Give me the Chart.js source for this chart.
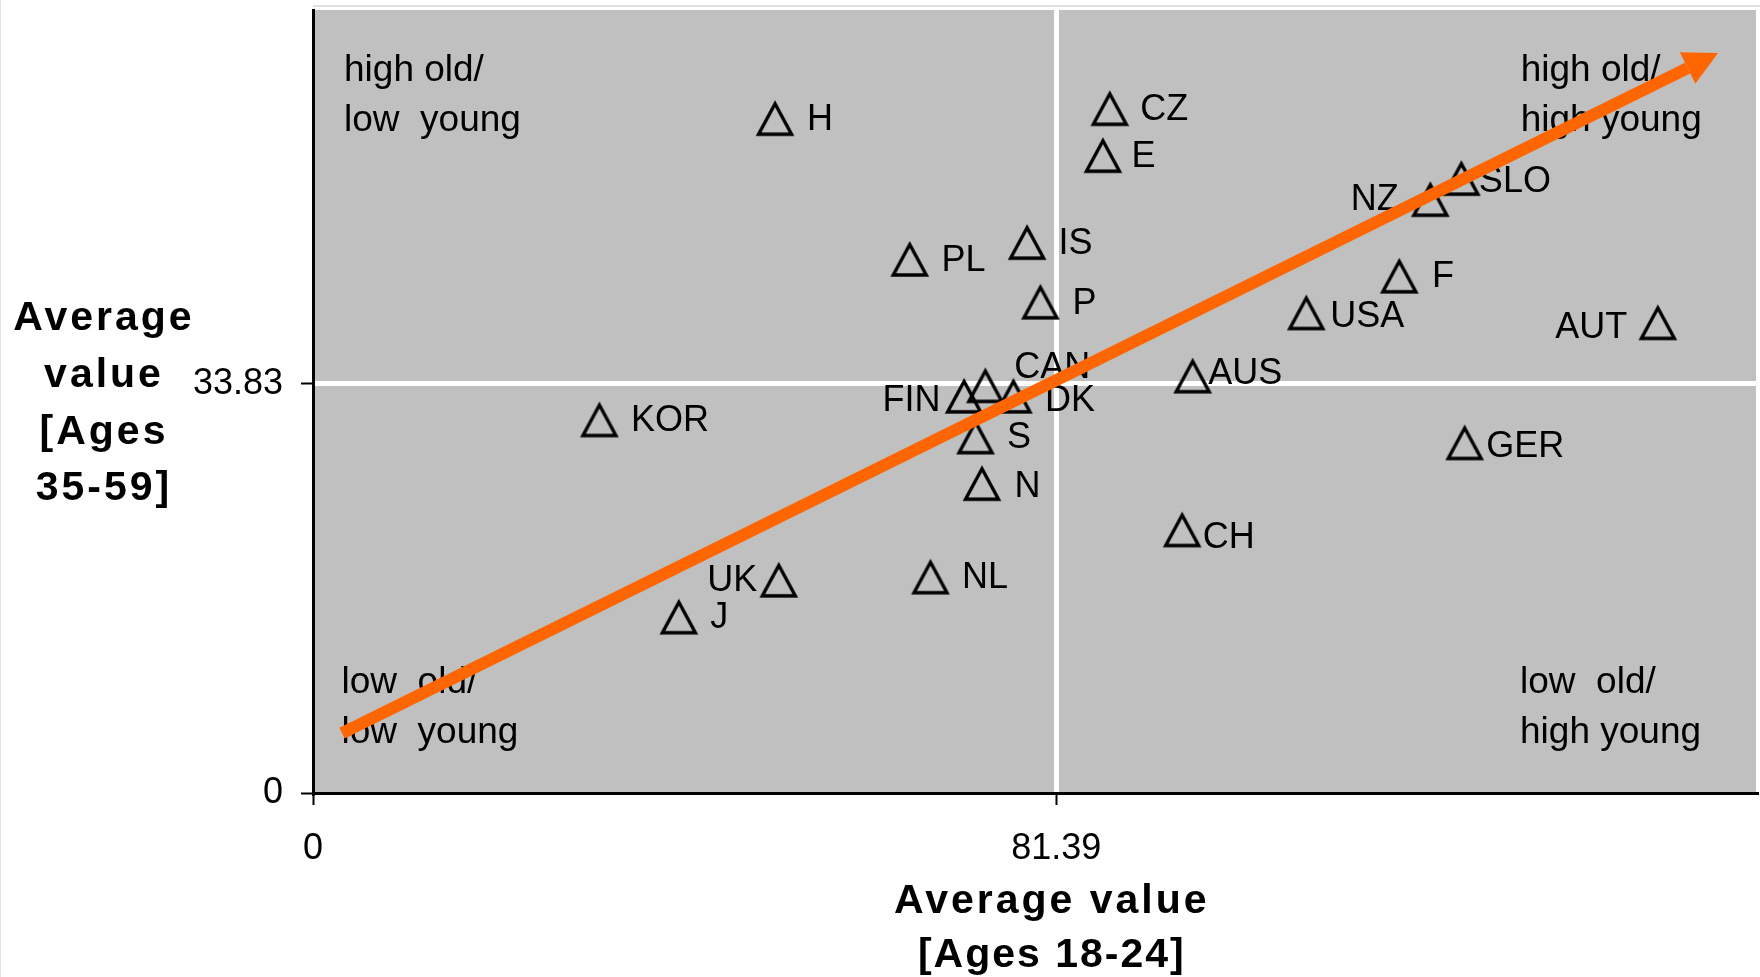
<!DOCTYPE html>
<html>
<head>
<meta charset="utf-8">
<script src="https://cdn.jsdelivr.net/npm/chart.js@4.4.1/dist/chart.umd.min.js"></script>
<style>
html,body{margin:0;padding:0;background:#ffffff;}
#wrap{width:1760px;height:977px;position:relative;}
canvas{display:block;}
</style>
</head>
<body>
<div id="wrap"><canvas id="c" width="1760" height="977"></canvas></div>
<script>
// ---------------- data ----------------
const countries = ['H','CZ','E','NZ','SLO','IS','PL','F','P','USA','AUT','AUS','CAN','FIN','DK','KOR','S','GER','N','CH','NL','UK','J'];
const youngValues = [50.59,87.24,86.49,122.34,125.74,78.19,65.34,118.94,79.65,108.76,147.25,96.32,73.62,71.29,76.69,31.36,72.54,126.10,73.25,95.17,67.61,51.00,40.06];
const oldValues   = [55.81,56.63,52.75,49.11,50.85,45.56,44.17,42.78,40.63,39.74,38.92,34.51,33.71,32.85,32.85,30.89,29.47,28.99,25.62,21.79,17.89,17.63,14.58];
const xTicks = [0, 81.39];
const yTicks = [0, 33.83];
const xTickLabels = ['0', '81.39'];
const yTickLabels = ['0', '33.83'];
const xRange = [0, 158];
const yRange = [0, 64.76];
const arrowX = [3.18, 150.51];
const arrowY = [4.96, 59.96];
const quadrantTexts = [
  ['high old/', 'low  young'],
  ['high old/', 'high young'],
  ['low  old/', 'low  young'],
  ['low  old/', 'high young']
];
const xTitleLines = ['Average value', '[Ages 18-24]'];
const yTitleLines = ['Average', 'value', '[Ages', '35-59]'];

// ---------------- styles / placement ----------------
const FONT = '"Liberation Sans", Arial, sans-serif';
const ORANGE = '#FF6600';
const PLOT_GRAY = '#C0C0C0';
// label placement relative to marker: [dx, dy(baseline), align]
const labelPlacement = {
  H:[32,11.7,'left'], CZ:[30.5,11.7,'left'], E:[28.5,11.5,'left'], NZ:[-31.5,10.8,'right'],
  SLO:[17.5,13.5,'left'], IS:[31.5,11.8,'left'], PL:[31.8,11.7,'left'], F:[32.8,10.9,'left'],
  P:[32,12.2,'left'], USA:[24,14,'left'], AUT:[-30.5,15.8,'right'], AUS:[15.5,8.2,'left'],
  CAN:[29,-7.8,'left'], FIN:[-23.5,14.9,'right'], DK:[31.5,14.9,'left'], KOR:[31.5,11.5,'left'],
  S:[31.5,11.3,'left'], GER:[21.5,14.5,'left'], N:[32.5,13.8,'left'], CH:[20.5,18.5,'left'],
  NL:[31.5,11.3,'left'], UK:[-21.5,10.9,'right'], J:[31.5,11.3,'left']
};

function makeTriangle(){
  const c = document.createElement('canvas');
  c.width = 40; c.height = 40;
  const g = c.getContext('2d');
  g.strokeStyle = '#000';
  g.lineWidth = 3.4;
  g.lineJoin = 'miter';
  g.beginPath();
  g.moveTo(20, 5.5);
  g.lineTo(36.5, 36);
  g.lineTo(3.5, 36);
  g.closePath();
  g.stroke();
  return c;
}
const triangle = makeTriangle();

const backgroundPlugin = {
  id: 'bg',
  beforeDraw(chart){
    const {ctx, chartArea:a} = chart;
    ctx.save();
    ctx.fillStyle = PLOT_GRAY;
    ctx.fillRect(a.left, a.top, a.right - a.left, a.bottom - a.top);
    ctx.strokeStyle = '#d6d6d6';
    ctx.lineWidth = 1.5;
    ctx.beginPath();
    ctx.moveTo(a.left, 6); ctx.lineTo(chart.width, 6);
    ctx.stroke();
    ctx.strokeStyle = '#e4e4e4';
    ctx.lineWidth = 1;
    ctx.beginPath();
    ctx.moveTo(0.5, 0); ctx.lineTo(0.5, chart.height);
    ctx.stroke();
    ctx.restore();
  }
};

const textPlugin = {
  id: 'texts',
  beforeDatasetsDraw(chart){
    const {ctx, chartArea:a} = chart;
    ctx.save();
    ctx.fillStyle = '#000';
    ctx.textBaseline = 'alphabetic';
    // quadrant texts
    ctx.font = '37px ' + FONT;
    ctx.textAlign = 'left';
    const qpos = [
      [a.left + 31, a.top + 71],
      [a.right - 235.3, a.top + 70.5],
      [a.left + 28.5, a.bottom - 100.5],
      [a.right - 236, a.bottom - 100.5]
    ];
    quadrantTexts.forEach((lines, qi) => {
      lines.forEach((t, li) => ctx.fillText(t, qpos[qi][0], qpos[qi][1] + li * 50));
    });
    // point labels
    const meta = chart.getDatasetMeta(0);
    ctx.font = '36px ' + FONT;
    meta.data.forEach((pt, i) => {
      const name = countries[i];
      const p = labelPlacement[name];
      ctx.textAlign = p[2];
      ctx.fillText(name, pt.x + p[0], pt.y + p[1]);
    });
    // axis titles
    ctx.font = 'bold 41px ' + FONT;
    ctx.textAlign = 'center';
    ctx.letterSpacing = '3px';
    const yBase = [329.5, 386.7, 444.3, 500];
    yTitleLines.forEach((t, i) => ctx.fillText(t, 104, yBase[i]));
    const xc = chart.scales.x.getPixelForValue(xTicks[1]) - 4.5;
    const xBase = [913, 967];
    const xSpacing = ['3px', '2px'];
    xTitleLines.forEach((t, i) => { ctx.letterSpacing = xSpacing[i]; ctx.fillText(t, xc, xBase[i]); });
    ctx.letterSpacing = '0px';
    ctx.restore();
  },
  afterDatasetsDraw(chart){
    const meta = chart.getDatasetMeta(1);
    const p0 = meta.data[0], p1 = meta.data[1];
    const dx = p1.x - p0.x, dy = p1.y - p0.y;
    const len = Math.hypot(dx, dy);
    const ux = dx / len, uy = dy / len;
    const headLen = 34, halfW = 17.5;
    const ctx = chart.ctx;
    ctx.save();
    ctx.fillStyle = ORANGE;
    ctx.beginPath();
    ctx.moveTo(p1.x + ux * headLen, p1.y + uy * headLen);
    ctx.lineTo(p1.x - uy * halfW, p1.y + ux * halfW);
    ctx.lineTo(p1.x + uy * halfW, p1.y - ux * halfW);
    ctx.closePath();
    ctx.fill();
    ctx.restore();
  }
};

const gridColor = c => (c.tick && c.tick.value === 0) ? 'rgba(0,0,0,0)' : '#ffffff';

new Chart(document.getElementById('c'), {
  type: 'scatter',
  data: {
    datasets: [
      {
        label: 'Countries',
        data: countries.map((c, i) => ({x: youngValues[i], y: oldValues[i]})),
        pointStyle: triangle,
        pointRadius: 18,
        order: 1
      },
      {
        type: 'line',
        label: 'Trend',
        data: arrowX.map((x, i) => ({x: x, y: arrowY[i]})),
        showLine: true,
        borderColor: ORANGE,
        borderWidth: 12,
        borderCapStyle: 'butt',
        pointRadius: 0,
        fill: false,
        tension: 0,
        clip: false,
        order: 0
      }
    ]
  },
  options: {
    responsive: false,
    animation: false,
    events: [],
    layout: {autoPadding: false, padding: {left: 0, top: 10, right: 4, bottom: 0}},
    plugins: {legend: {display: false}, tooltip: {enabled: false}},
    scales: {
      x: {
        type: 'linear', min: xRange[0], max: xRange[1],
        afterBuildTicks: s => { s.ticks = xTicks.map(v => ({value: v})); },
        afterFit: s => { s.height = 184; s.paddingLeft = 0; s.paddingRight = 0; },
        ticks: {
          callback: v => xTickLabels[xTicks.indexOf(v)],
          font: {family: FONT, size: 36}, color: '#000', padding: 22,
          maxRotation: 0, autoSkip: false
        },
        grid: {color: gridColor, lineWidth: 5, tickColor: '#000', tickWidth: 2, tickLength: 12, drawOnChartArea: true},
        border: {display: true, color: '#000', width: 3}
      },
      y: {
        type: 'linear', min: yRange[0], max: yRange[1],
        afterBuildTicks: s => { s.ticks = yTicks.map(v => ({value: v})); },
        afterFit: s => { s.width = 313; s.paddingTop = 0; s.paddingBottom = 0; },
        ticks: {
          callback: v => yTickLabels[yTicks.indexOf(v)],
          font: {family: FONT, size: 36}, color: '#000', padding: 18,
          autoSkip: false
        },
        grid: {color: gridColor, lineWidth: 5, tickColor: '#000', tickWidth: 2, tickLength: 12, drawOnChartArea: true},
        border: {display: true, color: '#000', width: 3}
      }
    }
  },
  plugins: [backgroundPlugin, textPlugin]
});
</script>
</body>
</html>
